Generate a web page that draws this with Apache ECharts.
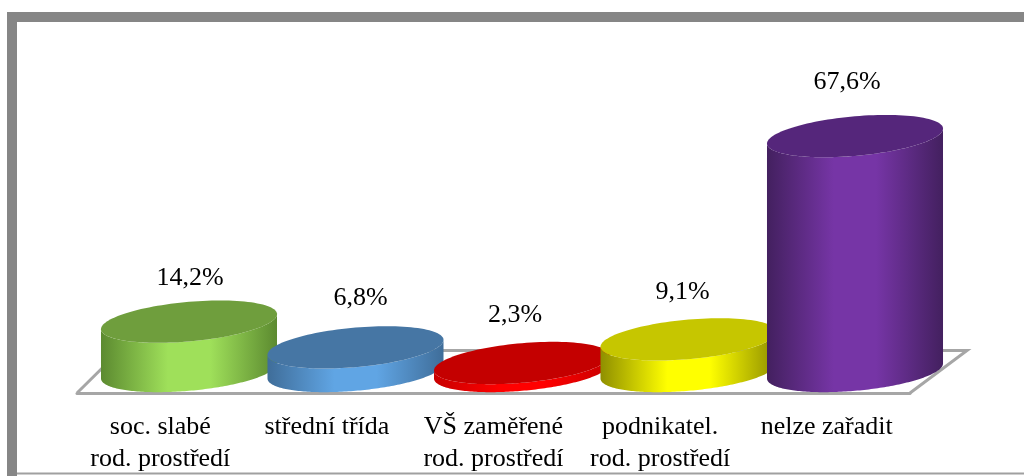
<!DOCTYPE html>
<html>
<head>
<meta charset="utf-8">
<style>
  html, body { margin: 0; padding: 0; background: #fff; }
  #main { width: 1024px; height: 476px; }
</style>
<script src="https://cdn.jsdelivr.net/npm/echarts@6/dist/echarts.min.js"></script>
</head>
<body>
<div id="main"></div>
<script>
// data
const categories = ['soc. slabé\nrod. prostředí', 'střední třída', 'VŠ zaměřené\nrod. prostředí', 'podnikatel.\nrod. prostředí', 'nelze zařadit'];
const values = [14.2, 6.8, 2.3, 9.1, 67.6];
const valueLabels = ['14,2%', '6,8%', '2,3%', '9,1%', '67,6%'];

// colours per cylinder: top face, side edge, side centre
const topColors = ['#6f9e3d', '#4676a4', '#c40000', '#c6c600', '#55267b'];
const edgeColors = ['#5c8a30', '#3f6d99', '#c80000', '#8f8f00', '#43205f'];
const midColors = ['#9fe05a', '#60a5e4', '#ff0000', '#ffff00', '#7635a6'];
// manual label nudges, the original labels are not exactly centred
const labelDx = [1, 5, -7, -6, -8];
const labelDy = [-43, -49, -48, -47, -54];

const FONT = '"Liberation Serif", "Times New Roman", serif';
const chart = echarts.init(document.getElementById('main'), null, { renderer: 'canvas' });

function renderCylinder(params, api) {
  const i = api.value(0);
  const top = api.coord([i, api.value(1)]);
  const base = api.coord([i, 0]);
  const a = api.size([1, 0])[0] * 0.5286; // half width
  const b = a * 0.225; // ellipse half height
  const k = a * 0.085; // shear, the ellipse leans up to the right

  const ellipse = (cy, from, to) => {
    const pts = [];
    for (let n = 0; n <= 120; n++) {
      const t = from + (to - from) * n / 120;
      pts.push([top[0] + a * Math.cos(t), cy + b * Math.sin(t) - k * Math.cos(t)]);
    }
    return pts;
  };

  // side: lower half of base ellipse, then back over the lower half of top ellipse
  const side = ellipse(base[1], Math.PI, 0).concat(ellipse(top[1], 0, Math.PI));
  return {
    type: 'group',
    children: [
      {
        type: 'polygon',
        shape: { points: side },
        style: {
          fill: new echarts.graphic.LinearGradient(0, 0, 1, 0, [
            { offset: 0, color: edgeColors[i] },
            { offset: 0.38, color: midColors[i] },
            { offset: 0.62, color: midColors[i] },
            { offset: 1, color: edgeColors[i] }
          ])
        }
      },
      {
        type: 'polygon',
        shape: { points: ellipse(top[1], 0, Math.PI * 2) },
        style: { fill: topColors[i] }
      },
      {
        type: 'text',
        style: {
          text: valueLabels[i],
          x: top[0] + labelDx[i],
          y: top[1] + labelDy[i],
          align: 'center',
          verticalAlign: 'middle',
          font: '26px ' + FONT,
          fill: '#000'
        }
      }
    ]
  };
}

chart.setOption({
  animation: false,
  backgroundColor: '#fff',
  grid: [
    // cylinders stand further back on the floor
    { left: 105.75, width: 832.5, top: 93, height: 278 },
    // front edge of the floor, carries the labels
    { left: 77, width: 833, top: 293, height: 100 }
  ],
  xAxis: [
    { gridIndex: 0, type: 'category', data: categories, show: false },
    {
      gridIndex: 1,
      type: 'category',
      data: categories,
      axisLine: { lineStyle: { color: '#a6a6a6', width: 3 } },
      axisTick: { show: false },
      axisLabel: {
        interval: 0,
        margin: 18,
        color: '#000',
        fontFamily: FONT,
        fontSize: 26,
        lineHeight: 32
      }
    }
  ],
  yAxis: [
    { gridIndex: 0, type: 'value', min: 0, max: 80, show: false },
    { gridIndex: 1, type: 'value', min: 0, max: 80, show: false }
  ],
  graphic: [
    // outer frame
    { type: 'polyline', z: -1, shape: { points: [[12, 476], [12, 17], [1024, 17]] },
      style: { stroke: '#868686', lineWidth: 10, fill: null } },
    { type: 'line', z: -1, shape: { x1: 17, y1: 473.5, x2: 1024, y2: 473.5 },
      style: { stroke: '#a0a0a0', lineWidth: 2 } },
    // floor outline behind the cylinders
    { type: 'polyline', z: -1, shape: { points: [[77, 393], [120, 350.5], [967, 350.5], [910, 393]] },
      style: { stroke: '#a6a6a6', lineWidth: 3, fill: null } }
  ],
  series: [
    {
      type: 'custom',
      xAxisIndex: 0,
      yAxisIndex: 0,
      clip: false,
      renderItem: renderCylinder,
      data: values.map((v, i) => [i, v])
    }
  ]
});
</script>
</body>
</html>
